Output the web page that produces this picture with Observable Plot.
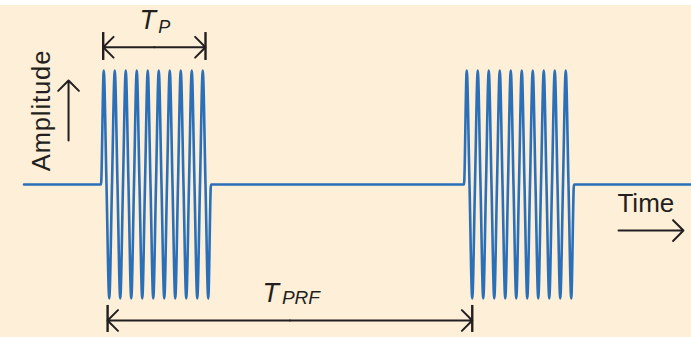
<!DOCTYPE html>
<html><head><meta charset="utf-8">
<script src="https://cdn.jsdelivr.net/npm/d3@7"></script>
<script src="https://cdn.jsdelivr.net/npm/@observablehq/plot@0.6"></script>
<style>
html,body{margin:0;padding:0;background:#ffffff;}
#chart{padding-top:5px;width:691px;}
</style></head><body><div id="chart"></div>
<script>
const burstAmplitude = [0, 1, 0, -1, 0, 1, 0, -1, 0, 1, 0, -1, 0, 1, 0, -1, 0, 1, 0, -1,
                        0, 1, 0, -1, 0, 1, 0, -1, 0, 1, 0, -1, 0, 1, 0, -1, 0, 1, 0, -1, 0];
const pulseStarts = [0, 33];          // start time of each pulse (in carrier cycles)
const sampleStep = 0.25;              // quarter cycle
const signalStart = -7, signalEnd = 54;

// Annotated spans (time)
const tpSpan = [0.2, 9.5];
const tprfSpan = [0.6, 33.75];

// Labels
const labelT = "T";
const labelP = "P";
const labelPRF = "PRF";
const labelAmplitude = "Amplitude";
const labelTime = "Time";

const blue = "#2b6fb8";
const ink = "#231f20";
const font = "'Liberation Sans', Arial, sans-serif";

const signal = [{t: signalStart, a: 0}];
for (const s of pulseStarts) burstAmplitude.forEach((a, i) => signal.push({t: s + i * sampleStep, a}));
signal.push({t: signalEnd, a: 0});

const tpY = 1.204, tprfY = -1.193;
const bars = [
  {t: tpSpan[0], y1: 1.088, y2: 1.333}, {t: tpSpan[1], y1: 1.088, y2: 1.333},
  {t: tprfSpan[0], y1: -1.061, y2: -1.298}, {t: tprfSpan[1], y1: -1.061, y2: -1.298}
];
const tpMid = (tpSpan[0] + tpSpan[1]) / 2, tprfMid = (tprfSpan[0] + tprfSpan[1]) / 2;
const arrows = [
  {x1: tpMid, y1: tpY, x2: tpSpan[0], y2: tpY}, {x1: tpMid, y1: tpY, x2: tpSpan[1], y2: tpY},
  {x1: tprfMid, y1: tprfY, x2: tprfSpan[0], y2: tprfY}, {x1: tprfMid, y1: tprfY, x2: tprfSpan[1], y2: tprfY},
  {x1: -2.95, y1: 0.386, x2: -2.95, y2: 0.912},
  {x1: 47.05, y1: -0.404, x2: 52.95, y2: -0.404}
];

const plot = Plot.plot({
  width: 691, height: 332, margin: 0,
  style: {background: "#fdefd8", fontFamily: font},
  x: {domain: [signalStart, signalEnd], range: [23.5, 694.5], axis: null},
  y: {domain: [-1, 1], range: [293, 65], axis: null},
  marks: [
    Plot.line(signal, {x: "t", y: "a", stroke: blue, strokeWidth: 2.6, curve: "monotone-x"}),
    Plot.ruleX(bars, {x: "t", y1: "y1", y2: "y2", stroke: ink, strokeWidth: 2.4}),
    Plot.arrow(arrows, {x1: "x1", y1: "y1", x2: "x2", y2: "y2", stroke: ink, strokeWidth: 2,
      bend: 0, headAngle: 90, headLength: 11}),
    Plot.text([labelT], {x: 3.5, y: 1.368, text: d => d, fontSize: 27, fontStyle: "italic",
      textAnchor: "start", lineAnchor: "bottom", fill: ink}),
    Plot.text([labelP], {x: 5.2, y: 1.33, text: d => d, fontSize: 18, fontStyle: "italic",
      textAnchor: "start", lineAnchor: "bottom", fill: ink}),
    Plot.text([labelT], {x: 14.68, y: -1.035, text: d => d, fontSize: 27, fontStyle: "italic",
      textAnchor: "start", lineAnchor: "bottom", fill: ink}),
    Plot.text([labelPRF], {x: 16.45, y: -1.044, text: d => d, fontSize: 19, fontStyle: "italic",
      textAnchor: "start", lineAnchor: "bottom", fill: ink}),
    Plot.text([labelAmplitude], {x: -5.41, y: 0.649, text: d => d, fontSize: 25.5, rotate: -90,
      textAnchor: "middle", lineAnchor: "middle", fill: ink}),
    Plot.text([labelTime], {x: 46.95, y: -0.243, text: d => d, fontSize: 26,
      textAnchor: "start", lineAnchor: "bottom", fill: ink})
  ]
});
plot.querySelectorAll("text").forEach(t => {
  if (t.textContent === labelAmplitude) t.style.letterSpacing = "0.9px";
});
document.getElementById("chart").appendChild(plot);
</script>
</body></html>
